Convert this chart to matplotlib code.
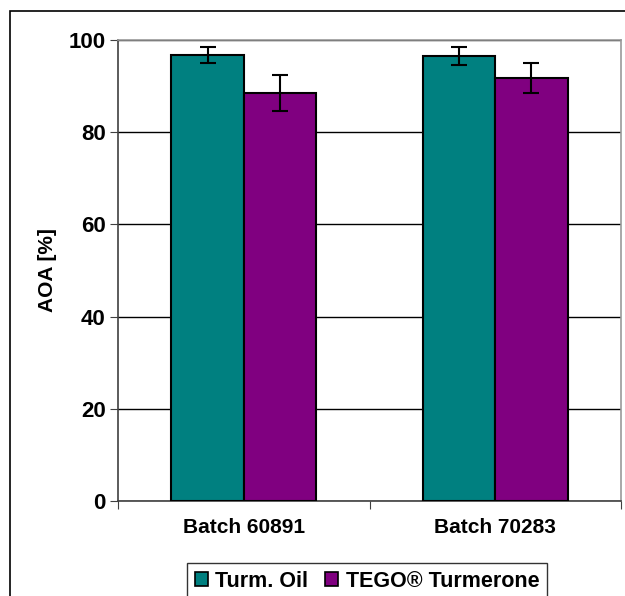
import matplotlib.pyplot as plt
import numpy as np
from matplotlib.patches import Rectangle

plt.rcParams['font.family'] = ['Liberation Sans', 'DejaVu Sans']
plt.rcParams['font.weight'] = 'bold'

batches = ['Batch 60891', 'Batch 70283']
series = ['Turm. Oil', 'TEGO® Turmerone']
turm_oil = [96.8, 96.5]
turm_oil_err = [1.7, 1.9]
tego = [88.6, 91.8]
tego_err = [3.9, 3.3]
colors = ['#008080', '#800080']
yticks = [0, 20, 40, 60, 80, 100]

fig = plt.figure(figsize=(6.25, 5.96), dpi=100)

# outer frame (cut at right and bottom like the source image)
fig.patches.append(Rectangle((10 / 625, -0.1), 1.2, 1 - 11 / 596 + 0.1,
                             transform=fig.transFigure, fill=False,
                             edgecolor='black', lw=1.2))

ax = fig.add_axes([118 / 625, 1 - 501 / 596, 503 / 625, 461 / 596])

x = np.arange(len(batches))
w = 0.288
ax.bar(x - w / 2, turm_oil, w, color=colors[0], edgecolor='black', lw=1.5,
       label=series[0], zorder=3)
ax.bar(x + w / 2, tego, w, color=colors[1], edgecolor='black', lw=1.5,
       label=series[1], zorder=3)
ax.errorbar(x - w / 2, turm_oil, yerr=turm_oil_err, fmt='none', ecolor='black',
            elinewidth=1.5, capsize=6, capthick=1.5, zorder=4)
ax.errorbar(x + w / 2, tego, yerr=tego_err, fmt='none', ecolor='black',
            elinewidth=1.5, capsize=6, capthick=1.5, zorder=4)

ax.set_xlim(-0.5, 1.5)
ax.set_ylim(0, 100)
ax.set_yticks(yticks)
ax.set_yticklabels([str(t) for t in yticks], fontsize=16, fontweight='bold')
ax.yaxis.grid(True, color='black', lw=1, zorder=0)
ax.set_axisbelow(True)

# category labels centered between boundary ticks
ax.set_xticks([-0.5, 0.5, 1.5])
ax.set_xticklabels([])
ax.set_xticks(x, minor=True)
ax.set_xticklabels(batches, minor=True, fontsize=15, fontweight='bold')
ax.tick_params(axis='x', which='minor', length=0, pad=12)
ax.tick_params(axis='x', which='major', length=6, color='#404040', direction='out')
ax.tick_params(axis='y', length=6, color='#404040', direction='out', pad=3)

ax.set_ylabel('AOA [%]', fontsize=15, fontweight='bold', labelpad=8)

ax.spines['left'].set_color('#404040')
ax.spines['bottom'].set_color('#404040')
ax.spines['top'].set_color('#999999')
ax.spines['right'].set_color('#999999')
for s in ax.spines.values():
    s.set_linewidth(1.2)

leg = fig.legend(loc='upper center', bbox_to_anchor=(367 / 625, 1 - 563 / 596),
                 ncol=2, fontsize=15.5, frameon=True, fancybox=False,
                 edgecolor='black', handlelength=0.6, handleheight=0.6,
                 handletextpad=0.35, columnspacing=0.8, borderpad=0.35,
                 borderaxespad=0)
leg.get_frame().set_linewidth(1.0)
for h in leg.legend_handles:
    h.set_linewidth(1.2)

fig.savefig('out.png', dpi=100)
